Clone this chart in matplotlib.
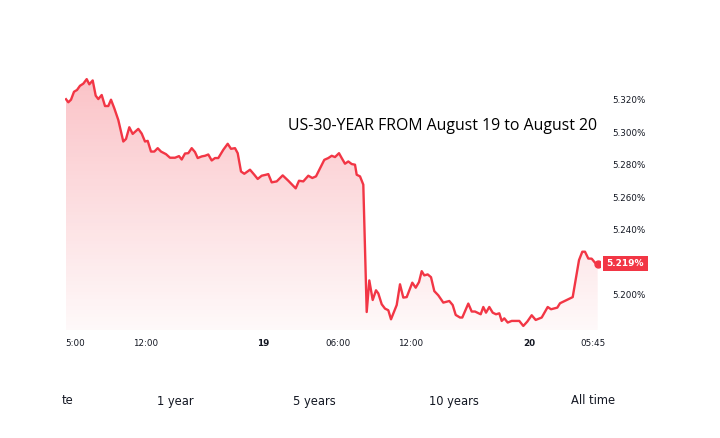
import numpy as np
import matplotlib
matplotlib.use("Agg")
import matplotlib.pyplot as plt

# position along the (trading-time) x axis and yield in %
t = [1, 3.3, 6, 9, 12, 15, 18.3, 21.7, 24.3, 27.7, 30.7, 33.3, 36.7, 40, 43.3, 46,
     49.3, 53.3, 58.3, 61, 64.3, 67.7, 73.3, 76.7, 80, 82.7, 86, 89.3, 92.7, 96,
     101, 105, 110, 114, 116.7, 120, 123.3, 126.7, 130, 132.7, 136.7, 140, 143.3,
     146.7, 150, 153.3, 158.3, 162.7, 166, 170, 172.7, 176, 179.3, 185, 189.3,
     192.7, 196.7, 201, 203.3, 206.7, 211.7, 217.7, 223.3, 230.7, 234, 238.3,
     243.3, 247.3, 251, 259.3, 263.3, 266.7, 270, 274, 276.7, 280, 283.3, 286.7,
     290, 291.7, 295, 298.3, 301.7, 304.3, 307.7, 311, 313.3, 316.7, 320, 323.3,
     326, 331.7, 335, 338.3, 341.7, 347.3, 350.7, 354, 356.7, 359.3, 362.7, 366,
     369.3, 373.3, 378.3, 384.3, 387.7, 390.7, 395, 397.3, 403.3, 406.7, 410,
     415.7, 418.3, 421, 424.3, 427.7, 431, 434.3, 436.7, 439.3, 442.7, 446.7,
     454.3, 458.3, 462.3, 466.7, 470.7, 476.7, 482.7, 486, 492.3, 495, 501.7,
     507.7, 514, 517.3, 520, 523.3, 526.7, 530, 532.7]
yields = [5.3204, 5.3185, 5.3201, 5.3250, 5.3261, 5.3287, 5.3300, 5.3328, 5.3296,
          5.3320, 5.3226, 5.3205, 5.3230, 5.3162, 5.3162, 5.3201, 5.3148, 5.3076,
          5.2943, 5.2959, 5.3031, 5.2990, 5.3021, 5.2992, 5.2943, 5.2947, 5.2881,
          5.2881, 5.2902, 5.2881, 5.2865, 5.2843, 5.2843, 5.2853, 5.2832, 5.2869,
          5.2871, 5.2902, 5.2878, 5.2841, 5.2851, 5.2855, 5.2863, 5.2826, 5.2841,
          5.2841, 5.2892, 5.2929, 5.2898, 5.2902, 5.2871, 5.2758, 5.2744, 5.2769,
          5.2738, 5.2712, 5.2732, 5.2738, 5.2742, 5.2691, 5.2697, 5.2734, 5.2701,
          5.2654, 5.2701, 5.2697, 5.2732, 5.2718, 5.2728, 5.2830, 5.2841, 5.2855,
          5.2847, 5.2871, 5.2841, 5.2806, 5.2820, 5.2804, 5.2800, 5.2738, 5.2728,
          5.2677, 5.1891, 5.2086, 5.1965, 5.2025, 5.2006, 5.1939, 5.1912, 5.1902,
          5.1846, 5.1934, 5.2062, 5.1980, 5.1983, 5.2072, 5.2041, 5.2076, 5.2143,
          5.2117, 5.2123, 5.2106, 5.2020, 5.1994, 5.1949, 5.1959, 5.1934, 5.1873,
          5.1857, 5.1857, 5.1943, 5.1894, 5.1894, 5.1877, 5.1922, 5.1887, 5.1922,
          5.1887, 5.1877, 5.1883, 5.1836, 5.1852, 5.1826, 5.1836, 5.1836, 5.1805,
          5.1832, 5.1871, 5.1842, 5.1857, 5.1922, 5.1908, 5.1918, 5.1945, 5.1965,
          5.1983, 5.2211, 5.2263, 5.2263, 5.2221, 5.2220, 5.2195, 5.2190]

x_tick_pos = [10, 81, 198, 272.5, 346, 464.5, 528]
x_tick_labels = ["5:00", "12:00", "19", "06:00", "12:00", "20", "05:45"]
y_ticks = [5.20, 5.24, 5.26, 5.28, 5.30, 5.32]
last_value = 5.219
ranges = ["te", "1 year", "5 years", "10 years", "All time"]
range_x = [62, 175, 314, 454, 593]

red = "#F23645"
t = np.array(t)
yields = np.array(yields)

fig = plt.figure(figsize=(7.2, 4.38), dpi=100)
ax = fig.add_axes([65 / 720, 1 - 330 / 438, 535 / 720, 270 / 438])
ax.set_xlim(0, 535)
ax.set_ylim(5.1780, 5.3446)

# gradient area under the line: same red, alpha fading downwards
poly = ax.fill_between(t, yields, 5.1780, color="none", lw=0)
n = 256
rgba = np.zeros((n, 1, 4))
rgba[..., 0] = 0.949
rgba[..., 1] = 0.212
rgba[..., 2] = 0.271
rgba[:, 0, 3] = np.linspace(0.03, 0.30, n)
img = ax.imshow(rgba, aspect="auto", origin="lower",
                extent=[0, 535, 5.1780, 5.3330], zorder=1)
img.set_clip_path(poly.get_paths()[0], transform=ax.transData)

ax.plot(t, yields, color=red, lw=1.7, zorder=3)
ax.plot(t[-1], yields[-1], "o", color=red, ms=5, zorder=4)

for s in ax.spines.values():
    s.set_visible(False)

ax.set_xticks(x_tick_pos)
ax.set_xticklabels(x_tick_labels)
ax.tick_params(axis="x", length=0, pad=6.5, labelsize=6.3, labelcolor="#131722")
for lab in ax.get_xticklabels():
    if lab.get_text() in ("19", "20"):
        lab.set_fontweight("bold")

ax.yaxis.tick_right()
ax.set_yticks(y_ticks)
ax.set_yticklabels([f"{v:.3f}%" for v in y_ticks])
ax.tick_params(axis="y", length=0, pad=9, labelsize=6.3, labelcolor="#131722")

# current value badge
ax.text(1.0125, last_value, f"{last_value:.3f}%", transform=ax.get_yaxis_transform(),
        ha="left", va="center", fontsize=6.5, fontweight="bold", color="white",
        bbox=dict(boxstyle="square,pad=0.38", fc=red, ec="none"), clip_on=False)

fig.text(288 / 720, 1 - 126 / 438, "US-30-YEAR FROM August 19 to August 20",
         ha="left", va="center", fontsize=11.4, family="Open Sans", color="black")

for lab, x in zip(ranges, range_x):
    fig.text(x / 720, 1 - 401 / 438, lab, ha="left" if lab == "te" else "center",
             va="center", fontsize=8.3, color="#131722")

fig.savefig("out.png", dpi=100)
